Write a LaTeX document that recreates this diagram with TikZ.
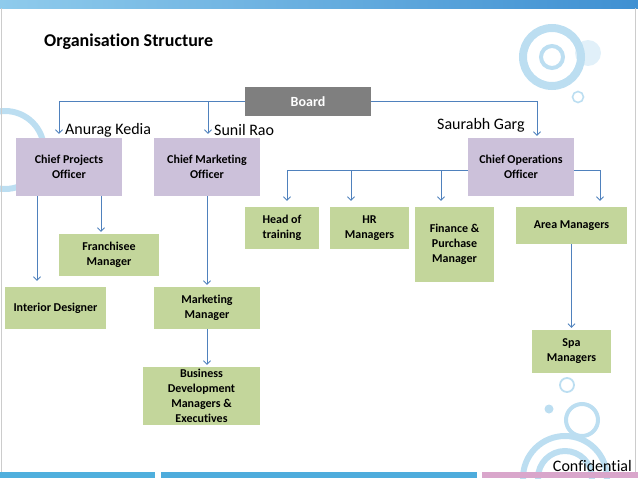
\documentclass[tikz,border=0pt]{standalone}
\usepackage{fontspec}
\setmainfont[Ligatures=NoCommon]{Carlito}
\usetikzlibrary{arrows.meta}

\definecolor{boardgray}{HTML}{7F7F7F}
\definecolor{chiefpurple}{HTML}{CCC1DA}
\definecolor{staffgreen}{HTML}{C3D69B}
\definecolor{linkblue}{HTML}{4F81BD}
\definecolor{ringblue}{HTML}{BCDEF1}
\definecolor{barlight}{HTML}{8FCBEC}
\definecolor{bardark}{HTML}{3F90D2}
\definecolor{barblue}{HTML}{4FAFDD}
\definecolor{barpink}{HTML}{D9A6CB}

\tikzset{
  boxtext/.style={font=\bfseries\fontsize{12}{15}\selectfont, align=center, inner sep=0pt},
  chiefbox/.style={boxtext, fill=chiefpurple, minimum width=106pt, minimum height=58pt},
  staffbox/.style={boxtext, fill=staffgreen},
  boardbox/.style={boxtext, fill=boardgray, text=white, font=\bfseries\fontsize{14}{16}\selectfont},
  namelabel/.style={font=\fontsize{16}{18}\selectfont, inner sep=0pt, anchor=west},
  conn/.style={draw=linkblue, line width=0.8pt, -{Straight Barb[length=3.5pt,width=7pt]}, shorten >=2pt},
  ring/.style={draw=ringblue}
}

\begin{document}
\begin{tikzpicture}[x=1pt,y=-1pt]
            \useasboundingbox (0,0) rectangle (638,479);

            % Drawing background rings
            \draw [ring, line width=6pt] (5,150) circle (39);%
            \fill [ringblue!45] (588,53) circle (13);%
            \draw [ring, line width=8pt] (552,57) circle (29);%
            \draw [ring, line width=4pt] (552,57) circle (11);%
            \draw [ring, line width=1.6pt] (578,97) circle (5.5);%
            \draw [ring, line width=1.8pt] (567,385) circle (7);%
            \fill [ringblue] (549,409) circle (4.5);%
            \draw [ring, line width=4pt] (582,420) circle (16);%
            \draw [ring, line width=6pt] (565,478) circle (42);%
            \draw [ring, line width=6pt] (565,478) circle (27);%

            % Drawing slide frame
            \shade [left color=barlight, right color=bardark] (0,0) rectangle (638,8);%
            \draw [black!20, line width=0.6pt] (1,8) -- (1,472);%
            \draw [black!20, line width=0.6pt] (635,8) -- (635,472);%
            \fill [barblue] (0,472) rectangle (155,478);%
            \fill [barblue!90!bardark] (161,472) rectangle (477,478);%
            \fill [barpink] (482,472) rectangle (638,478);%

            % Marking title
            \node (title) [font=\bfseries\fontsize{18}{20}\selectfont, anchor=west, inner sep=0pt] at (44,42) {Organisation Structure};%

            % Drawing board and chiefs
            \node (board) [boardbox, minimum width=126pt, minimum height=29pt] at (308,101.5) {Board};%
            \node (cpo) [chiefbox] at (69,167) {Chief Projects\\Officer};%
            \node (cmo) [chiefbox] at (207,167) {Chief Marketing\\Officer};%
            \node (coo) [chiefbox] at (521,167) {Chief Operations\\Officer};%

            % Drawing staff boxes
            \node (franchisee) [staffbox, minimum width=100pt, minimum height=42pt] at (109,255) {Franchisee\\Manager};%
            \node (interior) [staffbox, minimum width=101pt, minimum height=42pt] at (55.5,308) {Interior Designer};%
            \node (mktmgr) [staffbox, minimum width=106pt, minimum height=42pt] at (207,308) {Marketing\\Manager};%
            \node (bizdev) [staffbox, minimum width=117pt, minimum height=58pt] at (201.5,396) {Business\\Development\\Managers \&\\Executives};%
            \node (training) [staffbox, minimum width=74pt, minimum height=42pt] at (282,228) {Head of\\training};%
            \node (hrmgr) [staffbox, minimum width=79pt, minimum height=42pt] at (369.5,228) {HR\\Managers};%
            \node (finance) [staffbox, minimum width=79pt, minimum height=75pt] at (454.5,244.5) {Finance \&\\Purchase\\Manager};%
            \node (area) [staffbox, minimum width=111pt, minimum height=37pt] at (571.5,225.5) {Area Managers};%
            \node (spa) [staffbox, minimum width=79pt, minimum height=43pt] at (571.5,351.5) {Spa\\Managers};%

            % Marking names
            \node (kedia) [namelabel] at (65,130) {Anurag Kedia};%
            \node (rao) [namelabel] at (214,130) {Sunil Rao};%
            \node (garg) [namelabel] at (437,125) {Saurabh Garg};%

            % Drawing board links
            \draw [conn, shorten >=4pt] (board.west) -| ([xshift=-10pt]cpo.north);%
            \draw [conn, shorten >=4pt] (board.west) -| ([xshift=1pt]cmo.north);%
            \draw [conn, shorten >=2pt] (board.east) -| ([xshift=16pt]coo.north);%

            % Drawing projects links
            \draw [conn, shorten >=6pt] ([xshift=-32pt]cpo.south) -- ([xshift=-32pt]cpo.south |- interior.north);%
            \draw [conn] ([xshift=32pt]cpo.south) -- ([xshift=32pt]cpo.south |- franchisee.north);%

            % Drawing marketing links
            \draw [conn] (cmo.south) -- (mktmgr.north);%
            \draw [conn] (mktmgr.south) -- (mktmgr.south |- bizdev.north);%

            % Drawing operations links
            \draw [conn, shorten >=6pt] ([yshift=-3pt]coo.west) -| ([xshift=5pt]training.north);%
            \draw [conn, shorten >=6pt] ([yshift=-3pt]coo.west) -| ([xshift=-18.5pt]hrmgr.north);%
            \draw [conn, shorten >=6pt] ([yshift=-3pt]coo.west) -| ([xshift=-13.5pt]finance.north);%
            \draw [conn, shorten >=6pt] ([yshift=-3pt]coo.east) -| ([xshift=28.5pt]area.north);%
            \draw [conn] (area.south) -- (spa.north);%

            % Marking footer
            \node (confidential) [font=\fontsize{16}{18}\selectfont, anchor=east, inner sep=0pt] at (632,466) {Confidential};%
\end{tikzpicture}
\end{document}
